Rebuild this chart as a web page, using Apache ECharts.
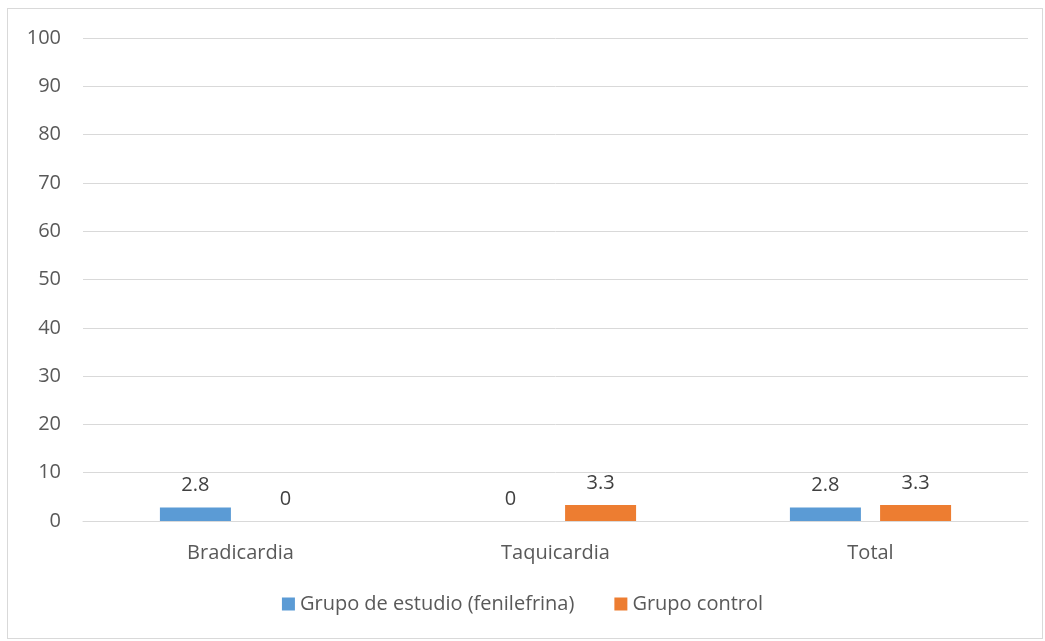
<!DOCTYPE html>
<html>
<head>
<meta charset="utf-8">
<title>Bradicardia / Taquicardia</title>
<script src="https://cdn.jsdelivr.net/npm/echarts@6/dist/echarts.min.js"></script>
<style>
  html, body { margin: 0; padding: 0; background: #fff; }
  #wrap { position: absolute; left: 7px; top: 8px; width: 1036px; height: 631px; border: 1px solid #d9d9d9; box-sizing: border-box; }
  #chart { width: 1045px; height: 641px; position: absolute; left: 0; top: 0; }
</style>
</head>
<body>
<div id="wrap"></div>
<div id="chart"></div>
<script>
  // datos
  var categorias = ['Bradicardia', 'Taquicardia', 'Total'];
  var grupoEstudio = [2.8, 0, 2.8];
  var grupoControl = [0, 3.3, 3.3];
  var nombres = ['Grupo de estudio (fenilefrina)', 'Grupo control'];
  var colores = ['#5B9BD5', '#ED7D31'];

  var fuente = '"Open Sans", "Noto Sans", sans-serif';
  var myChart = echarts.init(document.getElementById('chart'));

  function serie(i, datos) {
    return {
      name: nombres[i],
      type: 'bar',
      barWidth: 71,
      barGap: '27%',
      itemStyle: { color: colores[i] },
      label: {
        show: true,
        position: 'top',
        distance: 12,
        color: '#404040',
        fontSize: 20,
        fontFamily: fuente
      },
      data: datos
    };
  }

  myChart.setOption({
    animation: false,
    textStyle: { fontFamily: fuente },
    grid: { left: 83, right: 17, top: 38, bottom: 120 },
    legend: {
      bottom: 22,
      itemWidth: 13,
      itemHeight: 13,
      itemGap: 40,
      icon: 'rect',
      textStyle: { color: '#595959', fontSize: 20, fontFamily: fuente },
      data: nombres
    },
    xAxis: {
      type: 'category',
      data: categorias,
      axisLine: { lineStyle: { color: '#d9d9d9' } },
      axisTick: { show: false },
      axisLabel: { color: '#595959', fontSize: 20, margin: 22, fontFamily: fuente }
    },
    yAxis: {
      type: 'value',
      min: 0,
      max: 100,
      interval: 10,
      axisLine: { show: false },
      axisTick: { show: false },
      splitLine: { lineStyle: { color: '#d9d9d9', width: 1 } },
      axisLabel: { color: '#595959', fontSize: 20, margin: 22, fontFamily: fuente }
    },
    series: [serie(0, grupoEstudio), serie(1, grupoControl)]
  });
  window.addEventListener('resize', myChart.resize);
</script>
</body>
</html>
